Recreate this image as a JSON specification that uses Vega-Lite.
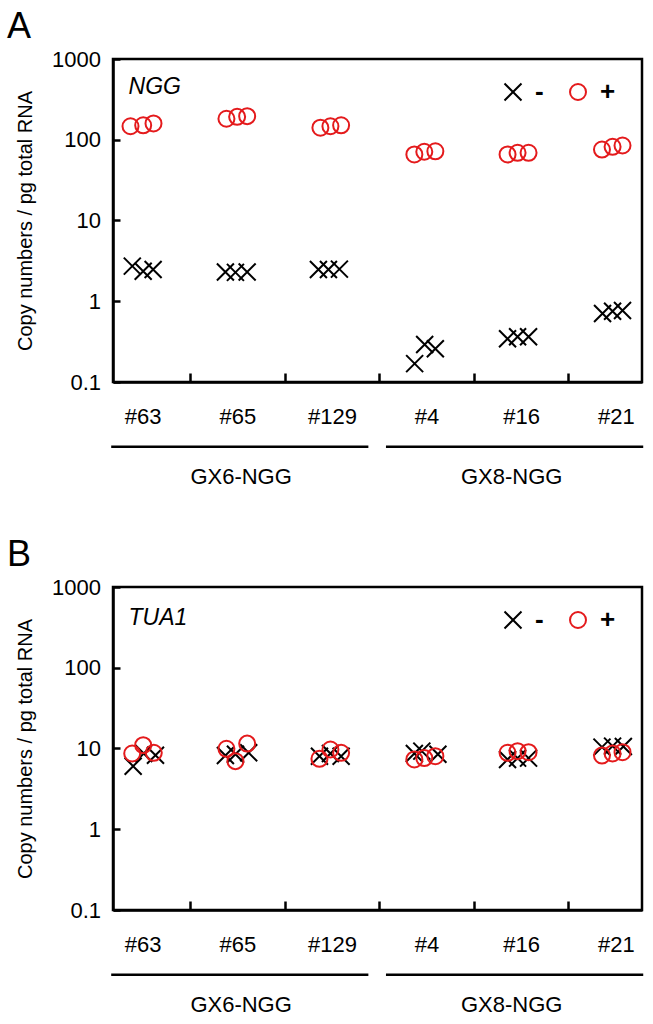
{
  "$schema": "https://vega.github.io/schema/vega-lite/v6.json",
  "background": "white",
  "padding": {"left": 5, "top": 7, "right": 5, "bottom": 0},
  "bounds": "flush",
  "spacing": 205,
  "datasets": {
    "points": [
      {"gene": "NGG", "clone": "#63", "treatment": "-", "pos": 0.89, "value": 2.72},
      {"gene": "NGG", "clone": "#63", "treatment": "-", "pos": 1.005, "value": 2.35},
      {"gene": "NGG", "clone": "#63", "treatment": "-", "pos": 1.11, "value": 2.47},
      {"gene": "NGG", "clone": "#65", "treatment": "-", "pos": 1.874, "value": 2.3},
      {"gene": "NGG", "clone": "#65", "treatment": "-", "pos": 1.98, "value": 2.28},
      {"gene": "NGG", "clone": "#65", "treatment": "-", "pos": 2.104, "value": 2.3},
      {"gene": "NGG", "clone": "#129", "treatment": "-", "pos": 2.857, "value": 2.47},
      {"gene": "NGG", "clone": "#129", "treatment": "-", "pos": 2.963, "value": 2.47},
      {"gene": "NGG", "clone": "#129", "treatment": "-", "pos": 3.079, "value": 2.5},
      {"gene": "NGG", "clone": "#4", "treatment": "-", "pos": 3.874, "value": 0.169},
      {"gene": "NGG", "clone": "#4", "treatment": "-", "pos": 3.98, "value": 0.291},
      {"gene": "NGG", "clone": "#4", "treatment": "-", "pos": 4.093, "value": 0.258},
      {"gene": "NGG", "clone": "#16", "treatment": "-", "pos": 4.856, "value": 0.343},
      {"gene": "NGG", "clone": "#16", "treatment": "-", "pos": 4.962, "value": 0.363},
      {"gene": "NGG", "clone": "#16", "treatment": "-", "pos": 5.078, "value": 0.363},
      {"gene": "NGG", "clone": "#21", "treatment": "-", "pos": 5.86, "value": 0.705},
      {"gene": "NGG", "clone": "#21", "treatment": "-", "pos": 5.966, "value": 0.753},
      {"gene": "NGG", "clone": "#21", "treatment": "-", "pos": 6.071, "value": 0.768},
      {"gene": "NGG", "clone": "#63", "treatment": "+", "pos": 0.871, "value": 147},
      {"gene": "NGG", "clone": "#63", "treatment": "+", "pos": 1.005, "value": 151},
      {"gene": "NGG", "clone": "#63", "treatment": "+", "pos": 1.114, "value": 159},
      {"gene": "NGG", "clone": "#65", "treatment": "+", "pos": 1.885, "value": 182},
      {"gene": "NGG", "clone": "#65", "treatment": "+", "pos": 1.998, "value": 192},
      {"gene": "NGG", "clone": "#65", "treatment": "+", "pos": 2.104, "value": 196},
      {"gene": "NGG", "clone": "#129", "treatment": "+", "pos": 2.878, "value": 141},
      {"gene": "NGG", "clone": "#129", "treatment": "+", "pos": 2.984, "value": 147},
      {"gene": "NGG", "clone": "#129", "treatment": "+", "pos": 3.097, "value": 151},
      {"gene": "NGG", "clone": "#4", "treatment": "+", "pos": 3.871, "value": 65.7},
      {"gene": "NGG", "clone": "#4", "treatment": "+", "pos": 3.976, "value": 71},
      {"gene": "NGG", "clone": "#4", "treatment": "+", "pos": 4.093, "value": 72},
      {"gene": "NGG", "clone": "#16", "treatment": "+", "pos": 4.856, "value": 65.7},
      {"gene": "NGG", "clone": "#16", "treatment": "+", "pos": 4.962, "value": 68.9},
      {"gene": "NGG", "clone": "#16", "treatment": "+", "pos": 5.078, "value": 68.9},
      {"gene": "NGG", "clone": "#21", "treatment": "+", "pos": 5.854, "value": 75.7},
      {"gene": "NGG", "clone": "#21", "treatment": "+", "pos": 5.966, "value": 81.8},
      {"gene": "NGG", "clone": "#21", "treatment": "+", "pos": 6.071, "value": 84.9},
      {"gene": "TUA1", "clone": "#63", "treatment": "-", "pos": 0.899, "value": 6.04},
      {"gene": "TUA1", "clone": "#63", "treatment": "-", "pos": 1.011, "value": 8.67},
      {"gene": "TUA1", "clone": "#63", "treatment": "-", "pos": 1.135, "value": 8.26},
      {"gene": "TUA1", "clone": "#65", "treatment": "-", "pos": 1.874, "value": 8.19},
      {"gene": "TUA1", "clone": "#65", "treatment": "-", "pos": 1.98, "value": 8.5},
      {"gene": "TUA1", "clone": "#65", "treatment": "-", "pos": 2.12, "value": 8.85},
      {"gene": "TUA1", "clone": "#129", "treatment": "-", "pos": 2.868, "value": 8.03},
      {"gene": "TUA1", "clone": "#129", "treatment": "-", "pos": 2.984, "value": 8.67},
      {"gene": "TUA1", "clone": "#129", "treatment": "-", "pos": 3.097, "value": 8.0},
      {"gene": "TUA1", "clone": "#4", "treatment": "-", "pos": 3.871, "value": 8.67},
      {"gene": "TUA1", "clone": "#4", "treatment": "-", "pos": 3.95, "value": 9.27},
      {"gene": "TUA1", "clone": "#4", "treatment": "-", "pos": 4.12, "value": 8.5},
      {"gene": "TUA1", "clone": "#16", "treatment": "-", "pos": 4.856, "value": 7.31},
      {"gene": "TUA1", "clone": "#16", "treatment": "-", "pos": 4.962, "value": 7.6},
      {"gene": "TUA1", "clone": "#16", "treatment": "-", "pos": 5.078, "value": 7.6},
      {"gene": "TUA1", "clone": "#21", "treatment": "-", "pos": 5.854, "value": 10.4},
      {"gene": "TUA1", "clone": "#21", "treatment": "-", "pos": 5.966, "value": 10.7},
      {"gene": "TUA1", "clone": "#21", "treatment": "-", "pos": 6.08, "value": 10.6},
      {"gene": "TUA1", "clone": "#63", "treatment": "+", "pos": 0.889, "value": 8.67},
      {"gene": "TUA1", "clone": "#63", "treatment": "+", "pos": 1.005, "value": 11.0},
      {"gene": "TUA1", "clone": "#63", "treatment": "+", "pos": 1.117, "value": 8.85},
      {"gene": "TUA1", "clone": "#65", "treatment": "+", "pos": 1.885, "value": 9.91},
      {"gene": "TUA1", "clone": "#65", "treatment": "+", "pos": 1.98, "value": 6.97},
      {"gene": "TUA1", "clone": "#65", "treatment": "+", "pos": 2.104, "value": 11.5},
      {"gene": "TUA1", "clone": "#129", "treatment": "+", "pos": 2.868, "value": 7.45},
      {"gene": "TUA1", "clone": "#129", "treatment": "+", "pos": 2.984, "value": 9.72},
      {"gene": "TUA1", "clone": "#129", "treatment": "+", "pos": 3.097, "value": 8.85},
      {"gene": "TUA1", "clone": "#4", "treatment": "+", "pos": 3.871, "value": 7.31},
      {"gene": "TUA1", "clone": "#4", "treatment": "+", "pos": 3.976, "value": 7.6},
      {"gene": "TUA1", "clone": "#4", "treatment": "+", "pos": 4.093, "value": 8.03},
      {"gene": "TUA1", "clone": "#16", "treatment": "+", "pos": 4.856, "value": 8.85},
      {"gene": "TUA1", "clone": "#16", "treatment": "+", "pos": 4.962, "value": 9.27},
      {"gene": "TUA1", "clone": "#16", "treatment": "+", "pos": 5.078, "value": 9.0},
      {"gene": "TUA1", "clone": "#21", "treatment": "+", "pos": 5.854, "value": 8.19},
      {"gene": "TUA1", "clone": "#21", "treatment": "+", "pos": 5.966, "value": 8.67},
      {"gene": "TUA1", "clone": "#21", "treatment": "+", "pos": 6.071, "value": 9.0}
    ],
    "groups": [
      {"group": "GX6-NGG", "from": 0.667, "to": 3.385, "center": 2.04},
      {"group": "GX8-NGG", "from": 3.571, "to": 6.29, "center": 4.9}
    ]
  },
  "vconcat": [
    {
      "width": 529,
      "height": 323,
      "title": {"text": "A", "anchor": "start", "frame": "group", "dx": -106, "dy": 49.5, "baseline": "alphabetic", "offset": 24},
      "layer": [
        {
          "data": {"name": "points"},
          "transform": [{"filter": "datum.gene == 'NGG'"}],
          "mark": {"type": "point", "filled": false, "strokeWidth": 2, "opacity": 1},
          "encoding": {
            "x": {"field": "pos", "type": "quantitative", "title": null,
              "scale": {"domain": [0.686, 6.277], "nice": false, "zero": false},
              "axis": {"values": [1, 1.5, 2, 2.5, 3, 3.5, 4, 4.5, 5, 5.5, 6],
                "labelExpr": "datum.value == 1 ? '#63' : datum.value == 2 ? '#65' : datum.value == 3 ? '#129' : datum.value == 4 ? '#4' : datum.value == 5 ? '#16' : datum.value == 6 ? '#21' : ''",
                "tickOpacity": {"condition": {"test": "datum.value % 1 != 0", "value": 1}, "value": 0},
                "tickSize": -9, "labelPadding": 33, "labelOverlap": false, "labelFlush": false, "title": null}},
            "y": {"field": "value", "type": "quantitative", "title": "Copy numbers / pg total RNA",
              "scale": {"type": "log", "domain": [0.1, 1000], "nice": false},
              "axis": {"values": [0.1, 1, 10, 100, 1000], "format": "~g", "tickSize": -7, "labelPadding": 19.5,
                "titleX": -88, "titleY": 161.5, "titleAngle": -90, "titleAlign": "center", "titleBaseline": "middle", "labelOverlap": false, "labelFlush": false}},
            "shape": {"field": "treatment", "type": "nominal", "title": null,
              "scale": {"domain": ["-", "+"], "range": ["M-1,-1L1,1M-1,1L1,-1", "circle"]},
              "legend": {"orient": "none", "legendX": 387, "legendY": 20, "direction": "horizontal", "padding": 0, "labelFontSize": 26, "labelFontWeight": "bold", "labelOffset": 9, "columnPadding": 21, "symbolStrokeWidth": 2, "labelBaseline": "middle"}},
            "color": {"field": "treatment", "type": "nominal", "title": null,
              "scale": {"domain": ["-", "+"], "range": ["#000000", "#e41a1c"]}},
            "size": {"field": "treatment", "type": "nominal", "title": null,
              "scale": {"domain": ["-", "+"], "range": [289, 256]}}
          }
        },
        {
          "data": {"values": [{"label": "NGG"}]},
          "mark": {"type": "text", "align": "left", "baseline": "middle", "fontStyle": "italic", "fontSize": 23, "font": "Liberation Sans", "color": "black"},
          "encoding": {
            "x": {"datum": 0.85, "type": "quantitative", "scale": {"domain": [0.686, 6.277], "nice": false, "zero": false}},
            "y": {"datum": 450, "type": "quantitative", "scale": {"type": "log", "domain": [0.1, 1000], "nice": false}},
            "text": {"field": "label"}
          }
        },
        {
          "data": {"name": "groups"},
          "mark": {"type": "rule", "strokeWidth": 2.5, "color": "black"},
          "encoding": {
            "x": {"field": "from", "type": "quantitative", "title": null, "scale": {"domain": [0.686, 6.277], "nice": false, "zero": false}},
            "x2": {"field": "to"},
            "y": {"datum": 0.0158, "type": "quantitative", "scale": {"type": "log", "domain": [0.1, 1000], "nice": false}}
          }
        },
        {
          "data": {"name": "groups"},
          "mark": {"type": "text", "align": "center", "baseline": "middle", "fontSize": 22, "font": "Liberation Sans", "color": "black"},
          "encoding": {
            "x": {"field": "center", "type": "quantitative", "title": null, "scale": {"domain": [0.686, 6.277], "nice": false, "zero": false}},
            "y": {"datum": 0.0066, "type": "quantitative", "scale": {"type": "log", "domain": [0.1, 1000], "nice": false}},
            "text": {"field": "group"}
          }
        }
      ]
    },
    {
      "width": 529,
      "height": 323,
      "title": {"text": "B", "anchor": "start", "frame": "group", "dx": -106, "dy": 49.5, "baseline": "alphabetic", "offset": 24},
      "layer": [
        {
          "data": {"name": "points"},
          "transform": [{"filter": "datum.gene == 'TUA1'"}],
          "mark": {"type": "point", "filled": false, "strokeWidth": 2, "opacity": 1},
          "encoding": {
            "x": {"field": "pos", "type": "quantitative", "title": null,
              "scale": {"domain": [0.686, 6.277], "nice": false, "zero": false},
              "axis": {"values": [1, 1.5, 2, 2.5, 3, 3.5, 4, 4.5, 5, 5.5, 6],
                "labelExpr": "datum.value == 1 ? '#63' : datum.value == 2 ? '#65' : datum.value == 3 ? '#129' : datum.value == 4 ? '#4' : datum.value == 5 ? '#16' : datum.value == 6 ? '#21' : ''",
                "tickOpacity": {"condition": {"test": "datum.value % 1 != 0", "value": 1}, "value": 0},
                "tickSize": -9, "labelPadding": 33, "labelOverlap": false, "labelFlush": false, "title": null}},
            "y": {"field": "value", "type": "quantitative", "title": "Copy numbers / pg total RNA",
              "scale": {"type": "log", "domain": [0.1, 1000], "nice": false},
              "axis": {"values": [0.1, 1, 10, 100, 1000], "format": "~g", "tickSize": -7, "labelPadding": 19.5,
                "titleX": -88, "titleY": 161.5, "titleAngle": -90, "titleAlign": "center", "titleBaseline": "middle", "labelOverlap": false, "labelFlush": false}},
            "shape": {"field": "treatment", "type": "nominal", "title": null,
              "scale": {"domain": ["-", "+"], "range": ["M-1,-1L1,1M-1,1L1,-1", "circle"]},
              "legend": {"orient": "none", "legendX": 387, "legendY": 20, "direction": "horizontal", "padding": 0, "labelFontSize": 26, "labelFontWeight": "bold", "labelOffset": 9, "columnPadding": 21, "symbolStrokeWidth": 2, "labelBaseline": "middle"}},
            "color": {"field": "treatment", "type": "nominal", "title": null,
              "scale": {"domain": ["-", "+"], "range": ["#000000", "#e41a1c"]}},
            "size": {"field": "treatment", "type": "nominal", "title": null,
              "scale": {"domain": ["-", "+"], "range": [289, 256]}}
          }
        },
        {
          "data": {"values": [{"label": "TUA1"}]},
          "mark": {"type": "text", "align": "left", "baseline": "middle", "fontStyle": "italic", "fontSize": 23, "font": "Liberation Sans", "color": "black"},
          "encoding": {
            "x": {"datum": 0.85, "type": "quantitative", "scale": {"domain": [0.686, 6.277], "nice": false, "zero": false}},
            "y": {"datum": 410, "type": "quantitative", "scale": {"type": "log", "domain": [0.1, 1000], "nice": false}},
            "text": {"field": "label"}
          }
        },
        {
          "data": {"name": "groups"},
          "mark": {"type": "rule", "strokeWidth": 2.5, "color": "black"},
          "encoding": {
            "x": {"field": "from", "type": "quantitative", "title": null, "scale": {"domain": [0.686, 6.277], "nice": false, "zero": false}},
            "x2": {"field": "to"},
            "y": {"datum": 0.0158, "type": "quantitative", "scale": {"type": "log", "domain": [0.1, 1000], "nice": false}}
          }
        },
        {
          "data": {"name": "groups"},
          "mark": {"type": "text", "align": "center", "baseline": "middle", "fontSize": 22, "font": "Liberation Sans", "color": "black"},
          "encoding": {
            "x": {"field": "center", "type": "quantitative", "title": null, "scale": {"domain": [0.686, 6.277], "nice": false, "zero": false}},
            "y": {"datum": 0.0066, "type": "quantitative", "scale": {"type": "log", "domain": [0.1, 1000], "nice": false}},
            "text": {"field": "group"}
          }
        }
      ]
    }
  ],
  "resolve": {"legend": {"shape": "independent", "color": "independent", "size": "independent"}},
  "config": {
    "font": "Liberation Sans",
    "view": {"stroke": "black", "strokeWidth": 2.5},
    "axis": {"grid": false, "domainColor": "black", "domainWidth": 2.5, "tickColor": "black", "tickWidth": 2.5,
      "labelColor": "black", "labelFontSize": 22, "labelFont": "Liberation Sans",
      "titleColor": "black", "titleFont": "Liberation Sans", "titleFontSize": 20, "titleFontWeight": "normal"},
    "title": {"font": "Liberation Sans", "fontSize": 36, "fontWeight": "normal", "color": "black"},
    "legend": {"labelColor": "black", "labelFont": "Liberation Sans"}
  }
}
